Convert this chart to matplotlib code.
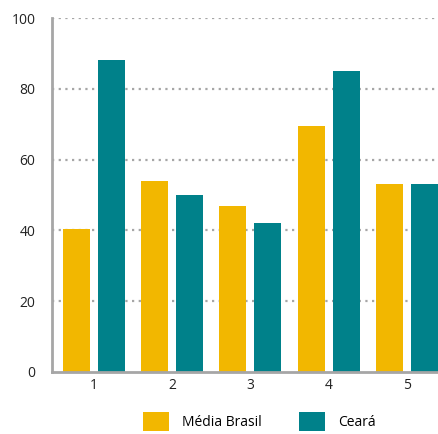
import matplotlib
matplotlib.use("Agg")
import matplotlib.pyplot as plt
import numpy as np

plt.rcParams['font.family'] = ['Open Sans', 'DejaVu Sans']

categorias = ['1', '2', '3', '4', '5']
media_brasil = [40.5, 54, 47, 69.5, 53]
ceara = [88, 50, 42, 85, 53]

cor_brasil = '#F2B700'
cor_ceara = '#00818A'
cinza = '#A6A6A6'

fig = plt.figure(figsize=(4.38, 4.34), dpi=100)
ax = fig.add_axes([0.1187, 0.1429, 0.8813, 0.8156])

x = np.arange(1, len(categorias) + 1)
largura = 0.346
desloc = 0.224

ax.bar(x - desloc, media_brasil, largura, color=cor_brasil, label='Média Brasil', zorder=3)
ax.bar(x + desloc, ceara, largura, color=cor_ceara, label='Ceará', zorder=3)

ax.set_xlim(0.46, 5.40)
ax.set_ylim(0, 100)
ax.set_yticks([0, 20, 40, 60, 80, 100])
ax.set_xticks(x)
ax.set_xticklabels(categorias)

# grade pontilhada
for v in [20, 40, 60, 80, 100]:
    ax.axhline(v, color=cinza, linestyle=(0, (1, 2)), linewidth=1.6, zorder=1)

for s in ['top', 'right']:
    ax.spines[s].set_visible(False)
for s in ['left', 'bottom']:
    ax.spines[s].set_color(cinza)
    ax.spines[s].set_linewidth(2)
    ax.spines[s].set_zorder(4)

ax.tick_params(axis='both', length=0, labelsize=10, colors='#222222')
ax.tick_params(axis='x', pad=4)
ax.tick_params(axis='y', pad=12)

fig.legend(loc='center', bbox_to_anchor=(0.5925, 0.029), ncol=2, frameon=False,
           fontsize=10, handlelength=1.87, handleheight=1.65, handletextpad=0.94,
           columnspacing=2.66, borderpad=0)

fig.savefig('out.png', dpi=100)
